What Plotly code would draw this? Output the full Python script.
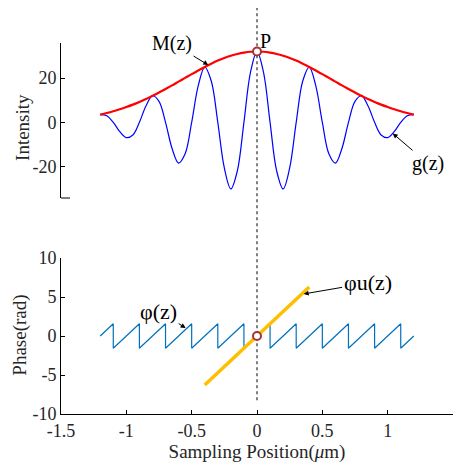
import plotly.graph_objects as go

# ---- data ----
z_top = [-1.2, -1.15, -1.1, -1.05, -1.0, -0.95, -0.9, -0.85, -0.8, -0.75, -0.7, -0.65,
         -0.6, -0.55, -0.5, -0.45, -0.4, -0.35, -0.3, -0.25, -0.2, -0.15, -0.1, -0.05,
         0.0, 0.05, 0.1, 0.15, 0.2, 0.25, 0.3, 0.35, 0.4, 0.45, 0.5, 0.55, 0.6, 0.65,
         0.7, 0.75, 0.8, 0.85, 0.9, 0.95, 1.0, 1.05, 1.1, 1.15, 1.2]
M_half = [32.0, 31.9, 31.5, 30.9, 30.1, 29.1, 27.9, 26.5, 25.0, 23.4, 21.8, 20.1, 18.4,
          16.7, 15.1, 13.5, 12.0, 10.5, 9.2, 8.0, 6.9, 5.9, 5.0, 4.2, 3.5]
g_half = [32.0, 22.6, 0.0, -21.8, -30.1, -20.6, 0.0, 18.7, 25.0, 16.5, 0.0, -14.2, -18.4,
          -11.8, 0.0, 9.5, 12.0, 7.4, 0.0, -5.7, -6.9, -4.2, 0.0, 3.0, 3.5]
M_vals = M_half[:0:-1] + M_half
g_vals = g_half[:0:-1] + g_half

z_phase = [-1.2, -1.1, -1.1, -0.9, -0.9, -0.7, -0.7, -0.5, -0.5, -0.3, -0.3, -0.1, -0.1,
           0.1, 0.1, 0.3, 0.3, 0.5, 0.5, 0.7, 0.7, 0.9, 0.9, 1.1, 1.1, 1.2]
phi_vals = [0.0, 1.57, -1.57, 1.57, -1.57, 1.57, -1.57, 1.57, -1.57, 1.57, -1.57, 1.57, -1.57,
            1.57, -1.57, 1.57, -1.57, 1.57, -1.57, 1.57, -1.57, 1.57, -1.57, 1.57, -1.57, 0.0]
z_unwrap = [-0.4, 0.4]
phiu_vals = [-6.28, 6.28]

P_top = (0.0, 32.0)
P_bot = (0.0, 0.0)

x_ticks = [-1.5, -1, -0.5, 0, 0.5, 1, 1.5]
x_ticktext = ["-1.5", "-1", "-0.5", "0", "0.5", "1", "1.5"]
y_top_ticks = [-20, 0, 20]
y_top_text = ["-20", "0", "20"]
y_bot_ticks = [-10, -5, 0, 5, 10]
y_bot_text = ["-10", "-5", "0", "5", "10"]

FONT = "Liberation Serif"
TXT = "#262626"
MARK = "#a83232"

fig = go.Figure()

# top panel
fig.add_trace(go.Scatter(x=z_top, y=g_vals, mode="lines", line=dict(color="#0000ff", width=1.2, shape="spline", smoothing=1.0),
                         xaxis="x2", yaxis="y2", showlegend=False, hoverinfo="skip"))
fig.add_trace(go.Scatter(x=z_top, y=M_vals, mode="lines", line=dict(color="#ff0000", width=2.2, shape="spline"),
                         xaxis="x2", yaxis="y2", showlegend=False, hoverinfo="skip"))
fig.add_trace(go.Scatter(x=[P_top[0]], y=[P_top[1]], mode="markers",
                         marker=dict(symbol="circle", size=8, color="white", line=dict(color=MARK, width=2)),
                         xaxis="x2", yaxis="y2", showlegend=False, hoverinfo="skip", cliponaxis=False))

# bottom panel
fig.add_trace(go.Scatter(x=z_phase, y=phi_vals, mode="lines", line=dict(color="#0072BD", width=1.2),
                         xaxis="x", yaxis="y", showlegend=False, hoverinfo="skip"))
fig.add_trace(go.Scatter(x=z_unwrap, y=phiu_vals, mode="lines", line=dict(color="#FFBF00", width=3.5),
                         xaxis="x", yaxis="y", showlegend=False, hoverinfo="skip"))
fig.add_trace(go.Scatter(x=[P_bot[0]], y=[P_bot[1]], mode="markers",
                         marker=dict(symbol="circle", size=8, color="white", line=dict(color=MARK, width=2)),
                         xaxis="x", yaxis="y", showlegend=False, hoverinfo="skip"))

axis_common = dict(showgrid=False, zeroline=False, linecolor="black", linewidth=1,
                   ticks="inside", ticklen=4, tickcolor="black", automargin=False,
                   tickfont=dict(family=FONT, size=18, color=TXT))
title_font = dict(family=FONT, size=19, color=TXT)

# the page adds an 8px body margin, so the figure is sized/offset to fit the window
fig.update_layout(
    width=454, height=458,
    margin=dict(l=53, r=9, t=0, b=52),
    paper_bgcolor="white", plot_bgcolor="white",
    font=dict(family=FONT, color=TXT),
    xaxis=dict(domain=[0, 1], range=[-1.5, 1.5], anchor="y", showline=True,
               tickvals=x_ticks, ticktext=x_ticktext,
               title=dict(text="Sampling Position(<i>μ</i>m)", font=title_font, standoff=2),
               **axis_common),
    yaxis=dict(domain=[0, 0.384], range=[-10, 10], anchor="x", showline=True,
               tickvals=y_bot_ticks, ticktext=y_bot_text, **axis_common),
    xaxis2=dict(domain=[0, 1], range=[-1.5, 1.5], anchor="y2", visible=False),
    yaxis2=dict(domain=[0.532, 0.914], range=[-34.2, 35.9], anchor="x2", showline=True,
                tickvals=y_top_ticks, ticktext=y_top_text, **axis_common),
)

# y-axis titles
fig.add_annotation(x=-0.097, y=0.707, xref="paper", yref="paper", text="Intensity", textangle=-90,
                   showarrow=False, xanchor="center", yanchor="middle", font=title_font)
fig.add_annotation(x=-0.105, y=0.195, xref="paper", yref="paper", text="Phase(rad)", textangle=-90,
                   showarrow=False, xanchor="center", yanchor="middle", font=title_font)

# dotted centre line across both panels
fig.add_shape(type="line", xref="x", yref="paper", x0=0, x1=0, y0=0.034, y1=1.0,
              line=dict(color="#555555", width=1.5, dash="dot"), layer="below")
# short stub at bottom of top axis
fig.add_shape(type="line", xref="x2 domain", yref="y2 domain", x0=0, x1=0.023, y0=0, y1=0,
              line=dict(color="black", width=1))

ann_font = dict(family=FONT, size=20, color="black")
phi_font = dict(family=FONT, size=22, color="black")
fig.add_annotation(x=-0.373, y=25.9, xref="x2", yref="y2", text="M(z)", showarrow=True,
                   ax=-36, ay=-22, arrowhead=2, arrowsize=1, arrowwidth=1, arrowcolor="black", font=ann_font)
fig.add_annotation(x=1.039, y=-5.0, xref="x2", yref="y2", text="g(z)", showarrow=True,
                   ax=35, ay=30, arrowhead=2, arrowsize=1, arrowwidth=1, arrowcolor="black", font=ann_font)
fig.add_annotation(x=P_top[0], y=P_top[1], xref="x2", yref="y2", text="P", showarrow=False,
                   xshift=8, yshift=11, font=ann_font)
fig.add_annotation(x=-0.546, y=1.03, xref="x", yref="y", text="φ(z)", showarrow=True,
                   ax=-27, ay=-17, arrowhead=2, arrowsize=1, arrowwidth=1, arrowcolor="black", font=phi_font)
fig.add_annotation(x=0.357, y=5.4, xref="x", yref="y", text="φu(z)", showarrow=True,
                   ax=64, ay=-11, arrowhead=2, arrowsize=1, arrowwidth=1, arrowcolor="black", font=phi_font)

fig.write_html("out.html")
